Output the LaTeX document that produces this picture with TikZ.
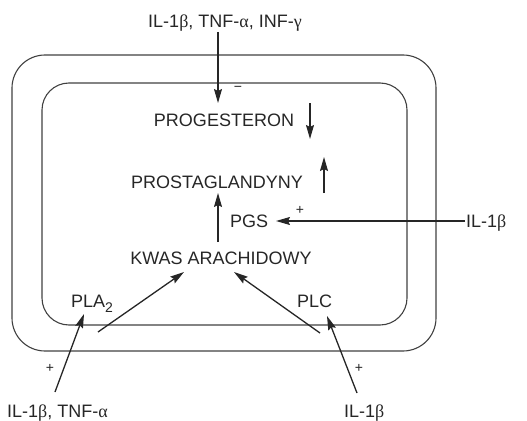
\documentclass[tikz,border=0pt]{standalone}
\usepackage{fontspec}
\setmainfont{Liberation Sans}
\newfontfamily\grk{Liberation Serif}
\usetikzlibrary{arrows.meta}
\begin{document}
\begin{tikzpicture}[x=1pt,y=-1pt,
  lbl/.style={inner sep=0pt,font=\fontsize{18}{20}\selectfont,text=black!85},
  sgn/.style={inner sep=0pt,font=\fontsize{14}{16}\selectfont,text=black!85},
  arr/.style={line width=1.3pt,draw=black!85,-{Stealth[length=14pt,width=8pt,inset=2pt]}},
  wall/.style={line width=1.1pt,draw=black!75}]
\useasboundingbox (0,0) rectangle (527,420);
% membranes
\draw[wall,rounded corners=33pt] (12,55) rectangle (436,351);
\draw[wall,rounded corners=27pt] (42,83) rectangle (407,325);
% labels
\node[lbl,anchor=base] (top) at (225,28) {IL-1{\grk β}, TNF-{\grk α}, INF-{\grk γ}};
\node[lbl,anchor=base] (prog) at (224,126) {PROGESTERON};
\node[lbl,anchor=base] (prost) at (217,188) {PROSTAGLANDYNY};
\node[lbl,anchor=base west] (pgs) at (230,227) {PGS};
\node[lbl,anchor=base] (kwas) at (221,264) {KWAS ARACHIDOWY};
\node[lbl,anchor=base west] (pla) at (71,307) {PLA\raisebox{-5pt}{\fontsize{14}{16}\selectfont 2}};
\node[lbl,anchor=base west] (plc) at (297,307) {PLC};
\node[lbl,anchor=base west] (ilr) at (466,227) {IL-1{\grk β}};
\node[lbl,anchor=base west] (ilbl) at (7,417) {IL-1{\grk β}, TNF-{\grk α}};
\node[lbl,anchor=base west] (ilbr) at (344,417) {IL-1{\grk β}};
% signs
\node[sgn] (m1) at (238,89) {\textminus};
\node[sgn] (p1) at (300,210) {+};
\node[sgn] (p2) at (50,368) {+};
\node[sgn] (p3) at (359,368) {+};
% coordinates
\coordinate (a1s) at (218,32);  \coordinate (a1e) at (218,103);
\coordinate (pdS) at (310,103); \coordinate (pdE) at (310,139);
\coordinate (puS) at (324,193); \coordinate (puE) at (324,157);
\coordinate (kS) at (218,242);  \coordinate (kE) at (218,193);
\coordinate (iS) at (465,221);  \coordinate (iE) at (276,221);
\coordinate (b1s) at (55,392);  \coordinate (b1e) at (84,314);
\coordinate (b2s) at (98,332);  \coordinate (b2e) at (184,272);
\coordinate (b3s) at (320,333); \coordinate (b3e) at (234,272);
\coordinate (b4s) at (357,393); \coordinate (b4e) at (327,316);
% arrows
\draw[arr] (a1s) -- (a1e);
\draw[arr] (pdS) -- (pdE);
\draw[arr] (puS) -- (puE);
\draw[arr] (kS) -- (kE);
\draw[arr] (iS) -- (iE);
\draw[arr] (b1s) -- (b1e);
\draw[arr] (b2s) -- (b2e);
\draw[arr] (b3s) -- (b3e);
\draw[arr] (b4s) -- (b4e);
\end{tikzpicture}
\end{document}
